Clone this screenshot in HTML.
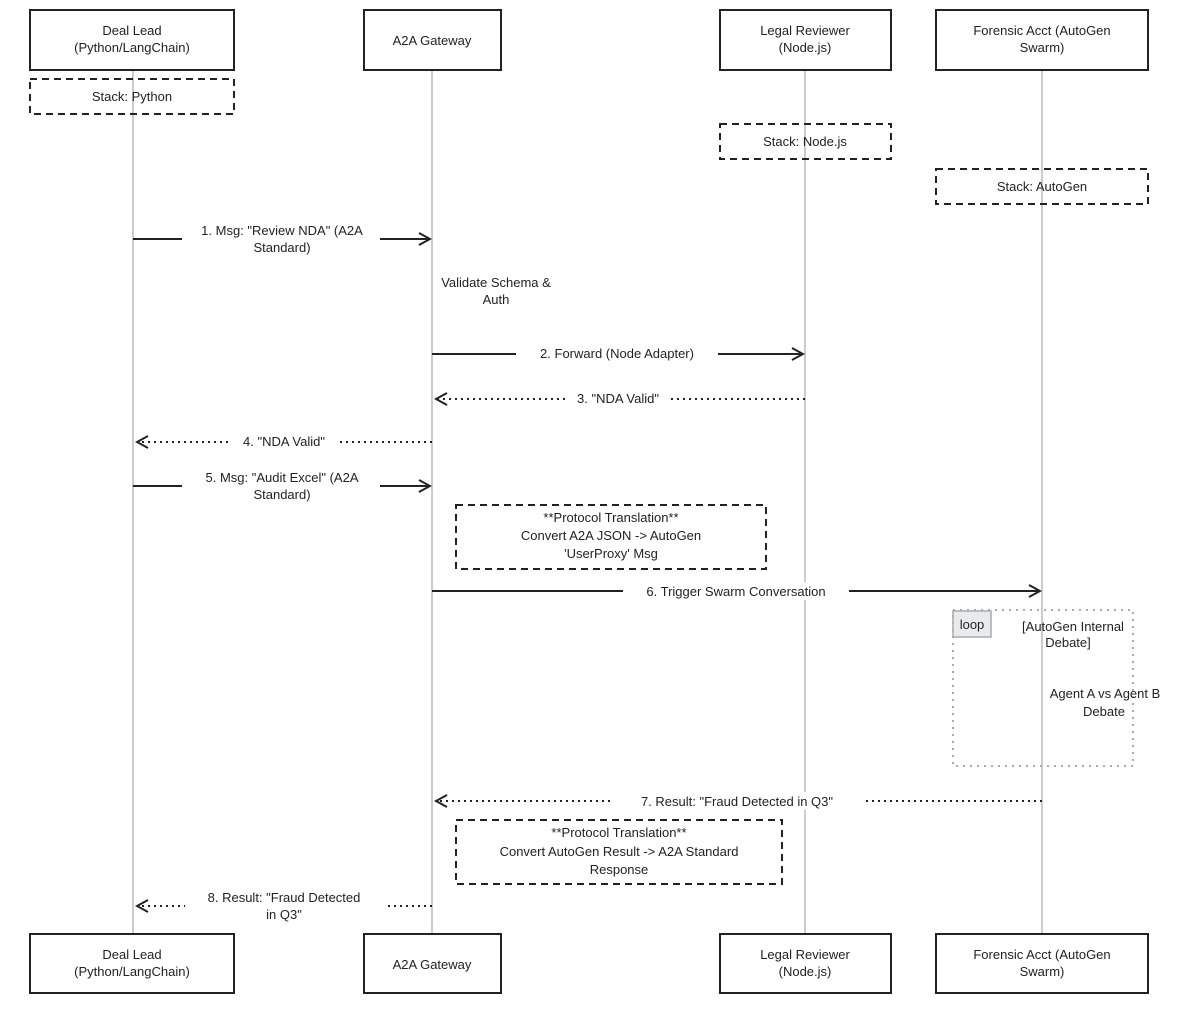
<!DOCTYPE html>
<html><head><meta charset="utf-8"><style>
html,body{margin:0;padding:0;background:#fff;}
svg{display:block;font-family:"Liberation Sans",sans-serif;}
text{font-size:13px;fill:#222;text-anchor:middle;}
</style></head><body>
<svg width="1182" height="1014" viewBox="0 0 1182 1014">
<defs>
<marker id="a" markerWidth="14" markerHeight="14" refX="12" refY="7" orient="auto" markerUnits="userSpaceOnUse"><path d="M1,1 L12,7 L1,13" fill="none" stroke="#222" stroke-width="2"/></marker>
</defs>
<g stroke="#bbb" stroke-width="1.5">
<line x1="133" y1="70" x2="133" y2="934"/>
<line x1="432" y1="70" x2="432" y2="934"/>
<line x1="805" y1="70" x2="805" y2="934"/>
<line x1="1042" y1="70" x2="1042" y2="934"/>
</g>
<g fill="#fff" stroke="#222" stroke-width="2">
<rect x="30" y="10" width="204" height="60"/><rect x="364" y="10" width="137" height="60"/>
<rect x="720" y="10" width="171" height="60"/><rect x="936" y="10" width="212" height="60"/>
<rect x="30" y="934" width="204" height="59"/><rect x="364" y="934" width="137" height="59"/>
<rect x="720" y="934" width="171" height="59"/><rect x="936" y="934" width="212" height="59"/>
</g>
<g fill="none" stroke="#222" stroke-width="2" stroke-dasharray="7,5">
<rect x="30" y="79" width="204" height="35"/>
<rect x="720" y="124" width="171" height="35"/>
<rect x="936" y="169" width="212" height="35"/>
<rect x="456" y="505" width="310" height="64" fill="#fff"/>
<rect x="456" y="820" width="326" height="64" fill="#fff"/>
</g>
<text x="132" y="35">Deal Lead</text><text x="132" y="52">(Python/LangChain)</text>
<text x="432" y="45">A2A Gateway</text>
<text x="805" y="35">Legal Reviewer</text><text x="805" y="52">(Node.js)</text>
<text x="1042" y="35">Forensic Acct (AutoGen</text><text x="1042" y="52">Swarm)</text>
<text x="132" y="959">Deal Lead</text><text x="132" y="976">(Python/LangChain)</text>
<text x="432" y="969">A2A Gateway</text>
<text x="805" y="959">Legal Reviewer</text><text x="805" y="976">(Node.js)</text>
<text x="1042" y="959">Forensic Acct (AutoGen</text><text x="1042" y="976">Swarm)</text>
<text x="132" y="101">Stack: Python</text>
<text x="805" y="146">Stack: Node.js</text>
<text x="1042" y="191">Stack: AutoGen</text>
<g stroke="#222" stroke-width="2" fill="none">
<line x1="133" y1="239" x2="430" y2="239" marker-end="url(#a)"/>
<line x1="432" y1="354" x2="803" y2="354" marker-end="url(#a)"/>
<line x1="133" y1="486" x2="430" y2="486" marker-end="url(#a)"/>
<line x1="432" y1="591" x2="1040" y2="591" marker-end="url(#a)"/>
<g stroke-dasharray="2,4">
<line x1="805" y1="399" x2="436" y2="399" marker-end="url(#a)"/>
<line x1="432" y1="442" x2="137" y2="442" marker-end="url(#a)"/>
<line x1="1042" y1="801" x2="436" y2="801" marker-end="url(#a)"/>
<line x1="432" y1="906" x2="137" y2="906" marker-end="url(#a)"/>
</g>
</g>
<g fill="#fff">
<rect x="182" y="221" width="198" height="36"/>
<rect x="516" y="345" width="202" height="18"/>
<rect x="566" y="390" width="104" height="18"/>
<rect x="232" y="433" width="104" height="18"/>
<rect x="182" y="468" width="198" height="36"/>
<rect x="623" y="582" width="226" height="18"/>
<rect x="612" y="792" width="250" height="18"/>
<rect x="185" y="888" width="200" height="36"/>
</g>
<text x="282" y="235">1. Msg: "Review NDA" (A2A</text><text x="282" y="252">Standard)</text>
<text x="496" y="287">Validate Schema &amp;</text><text x="496" y="304">Auth</text>
<text x="617" y="358">2. Forward (Node Adapter)</text>
<text x="618" y="403">3. "NDA Valid"</text>
<text x="284" y="446">4. "NDA Valid"</text>
<text x="282" y="482">5. Msg: "Audit Excel" (A2A</text><text x="282" y="499">Standard)</text>
<text x="611" y="522">**Protocol Translation**</text>
<text x="611" y="540">Convert A2A JSON -&gt; AutoGen</text>
<text x="611" y="558">'UserProxy' Msg</text>
<text x="736" y="596">6. Trigger Swarm Conversation</text>
<rect x="953" y="610" width="180" height="156" fill="none" stroke="#aaa" stroke-width="2" stroke-dasharray="2,5"/>
<rect x="953" y="611" width="38" height="26" fill="#e8ebee" stroke="#aaa" stroke-width="1.5"/>
<text x="972" y="629">loop</text>
<text x="1073" y="631">[AutoGen Internal</text><text x="1068" y="647">Debate]</text>
<text x="1105" y="698">Agent A vs Agent B</text><text x="1104" y="716">Debate</text>
<text x="737" y="806">7. Result: "Fraud Detected in Q3"</text>
<text x="619" y="837">**Protocol Translation**</text>
<text x="619" y="856">Convert AutoGen Result -&gt; A2A Standard</text>
<text x="619" y="874">Response</text>
<text x="284" y="902">8. Result: "Fraud Detected</text><text x="284" y="919">in Q3"</text>
</svg>
</body></html>
